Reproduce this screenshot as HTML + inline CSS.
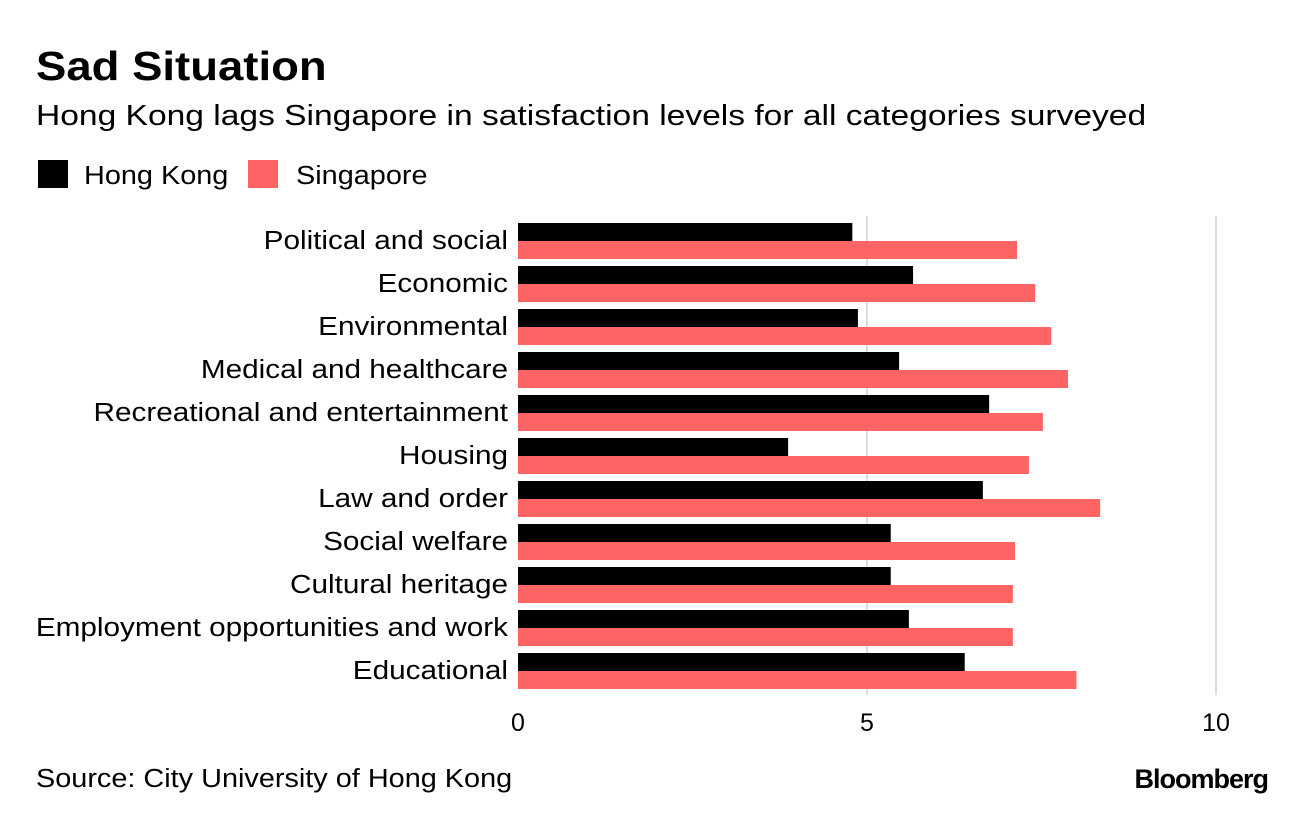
<!DOCTYPE html>
<html><head><meta charset="utf-8"><style>
body{margin:0;background:#fff;width:1296px;height:810px;overflow:hidden;font-family:"Liberation Sans",Arial,sans-serif;}
</style></head><body>
<svg width="1296" height="810" xmlns="http://www.w3.org/2000/svg" font-family="Liberation Sans, Arial, sans-serif">
<text x="36" y="80" font-size="41" font-weight="bold" fill="#000" transform="translate(36,0) scale(1.11,1) translate(-36,0)">Sad Situation</text>
<text x="36" y="125" font-size="29" fill="#000" transform="translate(36,0) scale(1.158,1) translate(-36,0)">Hong Kong lags Singapore in satisfaction levels for all categories surveyed</text>
<g>
<rect x="38" y="160" width="30" height="28" fill="#000"/>
<text x="84" y="184" font-size="26" transform="translate(84,0) scale(1.11,1) translate(-84,0)">Hong Kong</text>
<rect x="248" y="160" width="30" height="28" fill="#ff6464"/>
<text x="296" y="184" font-size="26" transform="translate(296,0) scale(1.11,1) translate(-296,0)">Singapore</text>
</g>
<g id="grid"></g><g id="bars"></g><g id="labels" transform="translate(508,0) scale(1.143,1) translate(-508,0)"></g>
<text x="36" y="787" font-size="26" transform="translate(36,0) scale(1.11,1) translate(-36,0)">Source: City University of Hong Kong</text>
<text x="1268" y="788" font-size="27" font-weight="bold" text-anchor="end" letter-spacing="-1">Bloomberg</text>
</svg>
<script>
const categories=["Political and social","Economic","Environmental","Medical and healthcare","Recreational and entertainment","Housing","Law and order","Social welfare","Cultural heritage","Employment opportunities and work","Educational"];
const hongKong=[4.79,5.66,4.87,5.46,6.75,3.87,6.66,5.34,5.34,5.6,6.4];
const singapore=[7.15,7.41,7.64,7.88,7.52,7.32,8.34,7.12,7.09,7.09,8.0];
const ticks=[0,5,10];
const NS="http://www.w3.org/2000/svg";
const x=v=>518+v*69.8;
const rowY=i=>223+i*43;
function mk(t,a,p){const e=document.createElementNS(NS,t);for(const k in a)e.setAttribute(k,a[k]);p.appendChild(e);return e;}
const g=document.getElementById('grid'),b=document.getElementById('bars'),l=document.getElementById('labels');
ticks.forEach(t=>{
 if(t>0){const ln=mk('line',{x1:x(t),x2:x(t),y1:216,y2:695,stroke:'#ddd','stroke-width':2},g);
 
 }
 const tx=mk('text',{x:x(t),y:731,'font-size':25,'text-anchor':'middle'},g);tx.textContent=t;
 
 
});
categories.forEach((c,i)=>{
 const y=rowY(i);
 const r1=mk('rect',{x:x(0),y:y,width:x(hongKong[i])-x(0),height:18,fill:'#000'},b);
 
 
 const r2=mk('rect',{x:x(0),y:y+18,width:x(singapore[i])-x(0),height:18,fill:'#ff6464'},b);
 
 
 const t=mk('text',{x:508,y:y+26,'font-size':26,'text-anchor':'end'},l);t.textContent=c;
 
 
});
</script>
</body></html>
